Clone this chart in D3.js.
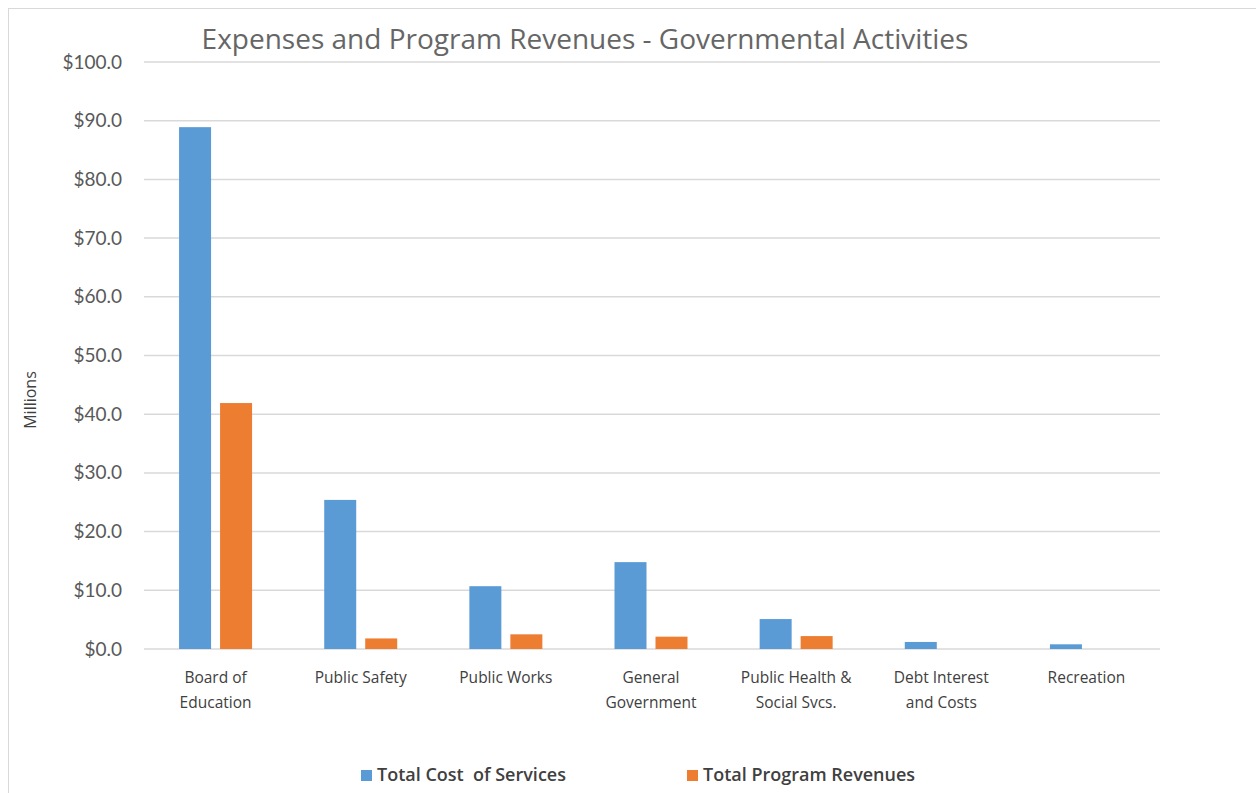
<!DOCTYPE html>
<html>
<head>
<meta charset="utf-8">
<script src="https://cdn.jsdelivr.net/npm/d3@7"></script>
<style>
  body { margin: 0; background: #fff; }
  svg { display: block; }
</style>
</head>
<body>
<svg id="chart" width="1256" height="793"></svg>
<script>
const categories = [
  ["Board of", "Education"],
  ["Public Safety"],
  ["Public Works"],
  ["General", "Government"],
  ["Public Health &", "Social Svcs."],
  ["Debt Interest", "and Costs"],
  ["Recreation"]
];
const totalCost = [88.9, 25.4, 10.7, 14.8, 5.1, 1.2, 0.8];
const programRevenues = [41.9, 1.8, 2.5, 2.1, 2.2, 0, 0];
const seriesNames = ["Total Cost  of Services", "Total Program Revenues"];
const colors = ["#5b9bd5", "#ed7d31"];
const yTicks = [0, 10, 20, 30, 40, 50, 60, 70, 80, 90, 100];

const svg = d3.select("#chart");
const font = "Open Sans, sans-serif";

// outer frame
svg.append("rect")
  .attr("x", 8.5).attr("y", 8.5)
  .attr("width", 1260).attr("height", 800)
  .attr("fill", "#fff")
  .attr("stroke", "#d9d9d9");

const margin = { left: 144, right: 96, top: 62, bottom: 144 };
const width = 1256 - margin.left - margin.right;
const height = 793 - margin.top - margin.bottom;

const g = svg.append("g").attr("transform", `translate(${margin.left},${margin.top})`);

const x = d3.scaleBand().domain(d3.range(categories.length)).range([0, width]);
const y = d3.scaleLinear().domain([0, 100]).range([height, 0]);

// gridlines
g.append("g")
  .selectAll("line")
  .data(yTicks)
  .enter()
  .append("line")
  .attr("x1", 0).attr("x2", width)
  .attr("y1", (d) => y(d)).attr("y2", (d) => y(d))
  .attr("stroke", "#d9d9d9")
  .attr("stroke-width", 1.5);

// y axis labels
const yAxis = g.append("g").call(
  d3.axisLeft(y).tickValues(yTicks).tickSize(0).tickPadding(22)
    .tickFormat((d) => "$" + d3.format(".1f")(d))
);
yAxis.select(".domain").remove();
yAxis.selectAll("text")
  .attr("font-family", "Lato, sans-serif")
  .attr("font-size", 19)
  .attr("fill", "#595959");

// bars
const barW = 32, gap = 9;
const series = [totalCost, programRevenues];
series.forEach((vals, s) => {
  g.append("g")
    .selectAll("rect")
    .data(vals)
    .enter()
    .append("rect")
    .attr("x", (d, i) => x(i) + x.bandwidth() / 2 - barW - gap / 2 - 1 + s * (barW + gap))
    .attr("y", (d) => y(d))
    .attr("width", barW)
    .attr("height", (d) => y(0) - y(d))
    .attr("fill", colors[s]);
});

// category labels
const cat = g.append("g")
  .selectAll("text")
  .data(categories)
  .enter()
  .append("text")
  .attr("x", (d, i) => x(i) + x.bandwidth() / 2 - 1)
  .attr("y", height + 34)
  .attr("text-anchor", "middle")
  .attr("font-family", font)
  .attr("font-size", 15.5)
  .attr("fill", "#404040");
cat.selectAll("tspan")
  .data((d) => d)
  .enter()
  .append("tspan")
  .attr("x", function () { return this.parentNode.getAttribute("x"); })
  .attr("dy", (d, i) => (i === 0 ? 0 : 25))
  .text((d) => d);

// title
svg.append("text")
  .attr("x", 585).attr("y", 49)
  .attr("text-anchor", "middle")
  .attr("font-family", font)
  .attr("font-size", 28)
  .attr("fill", "#666")
  .text("Expenses and Program Revenues - Governmental Activities");

// y title
svg.append("text")
  .attr("transform", "translate(36,400) rotate(-90)")
  .attr("text-anchor", "middle")
  .attr("font-family", font)
  .attr("font-size", 16)
  .attr("fill", "#404040")
  .text("Millions");

// legend
const legendX = [361, 687];
const legend = svg.append("g")
  .selectAll("g")
  .data(seriesNames)
  .enter()
  .append("g")
  .attr("transform", (d, i) => `translate(${legendX[i]},780)`);
legend.append("rect")
  .attr("x", 0).attr("y", -10)
  .attr("width", 11).attr("height", 11)
  .attr("fill", (d, i) => colors[i]);
legend.append("text")
  .attr("x", 16).attr("y", 1)
  .attr("font-family", font)
  .attr("font-size", 18)
  .attr("font-weight", 600)
  .attr("fill", "#404040")
  .style("white-space", "pre")
  .attr("xml:space", "preserve")
  .text((d) => d);
</script>
</body>
</html>
